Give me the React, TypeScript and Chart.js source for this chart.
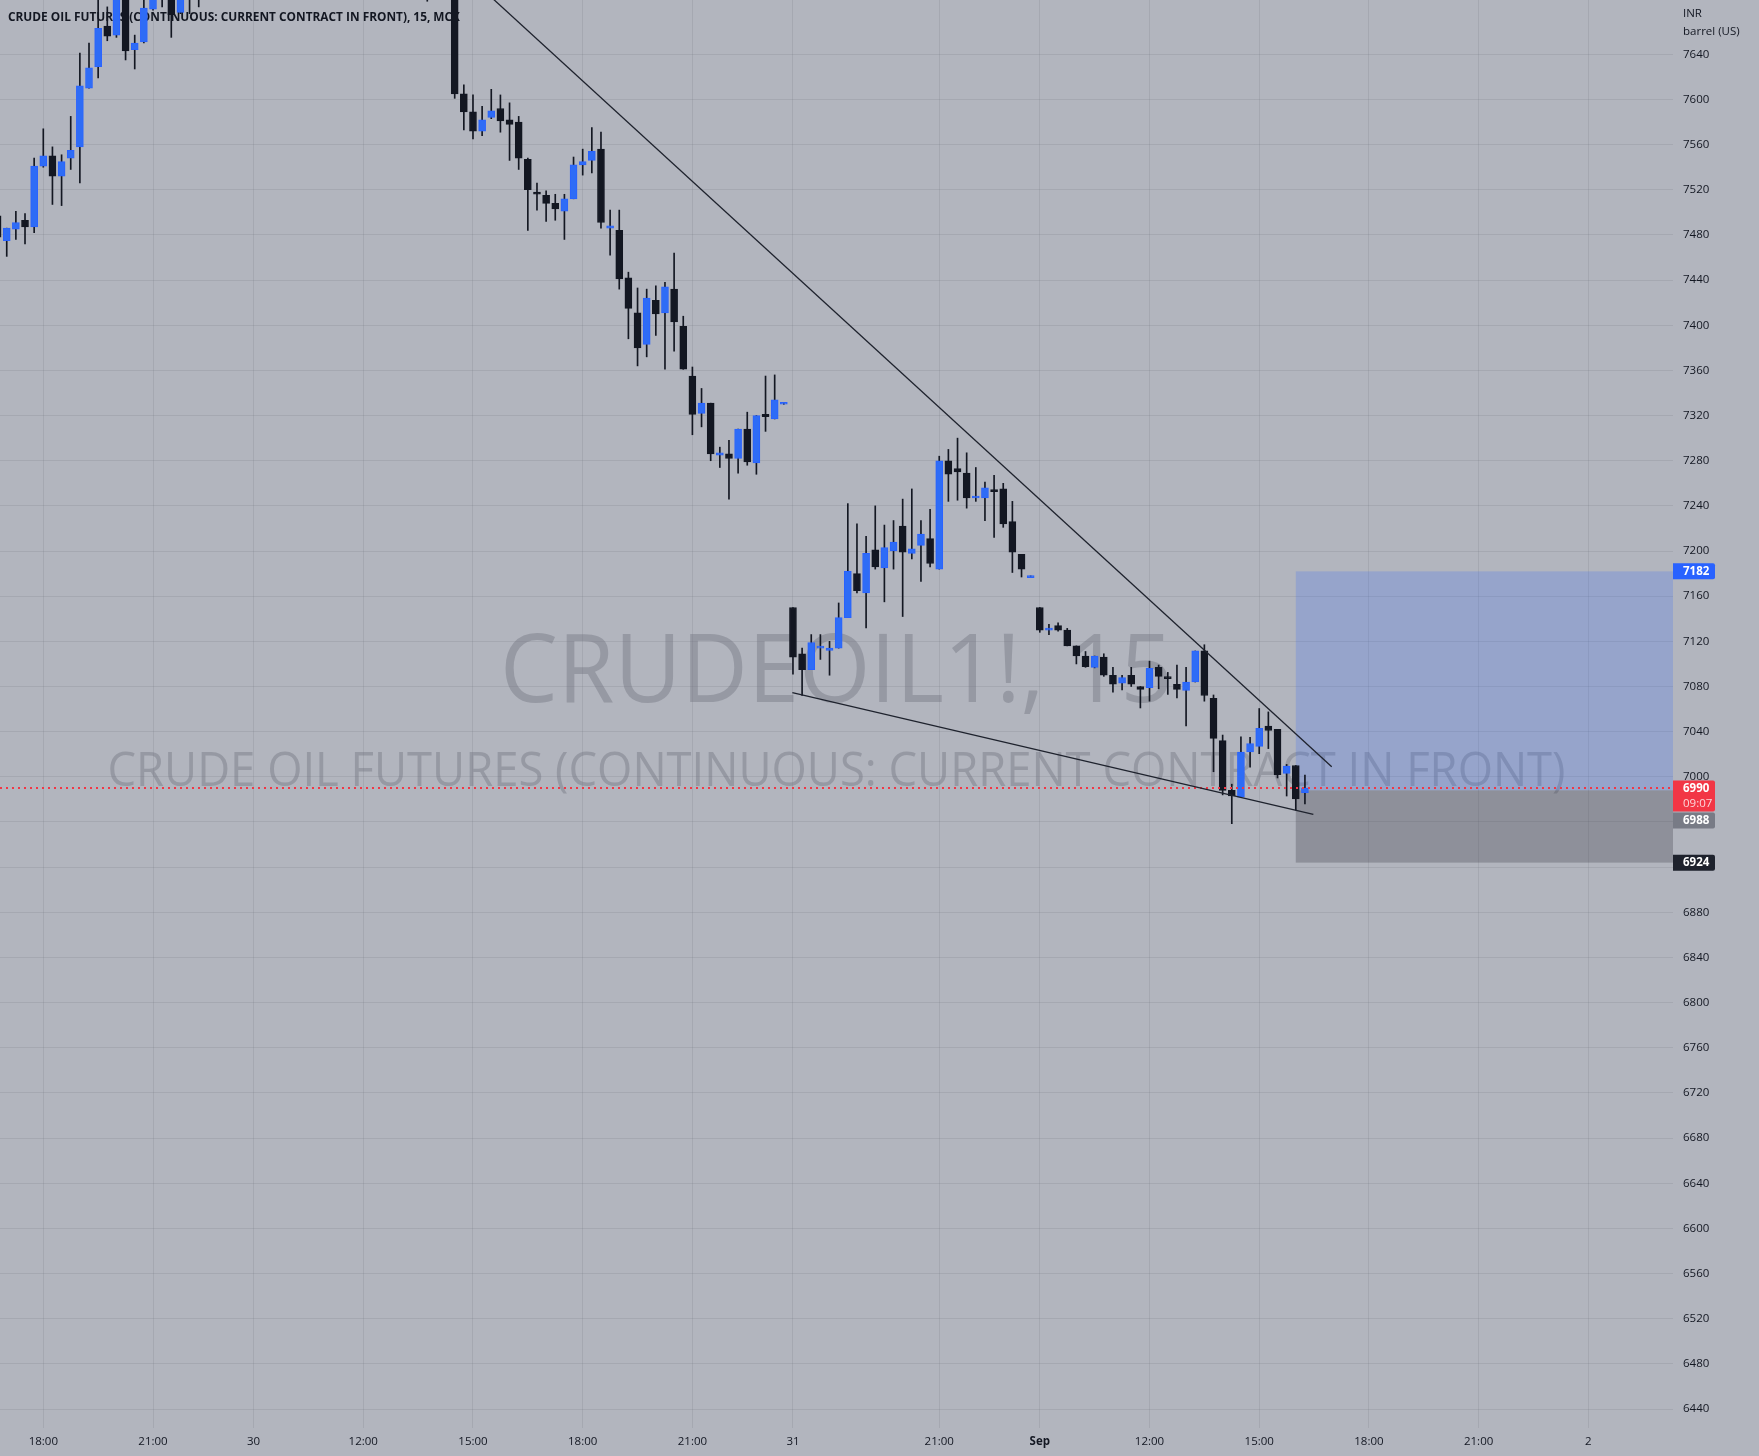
import { useEffect, useRef } from 'react';
import { Chart, registerables } from 'chart.js';

Chart.register(...registerables);

// ---------- data ----------
const FIRST_BAR = -5; // bar index of the first candle (index 0 = 29 Aug 18:00, 15-minute bars)

const opens = [
  7497, 7475, 7485, 7493, 7487, 7541, 7550, 7532, 7548, 7558, 7610, 7629, 7665, 7657, 7706, 7644, 7651, 7680, 7708, 7702,
  7677, 7700, 7712, 7696, 7716, 7728, 7720, 7738, 7740, 7760, 7748, 7756, 7742, 7734, 7746, 7762, 7750, 7740, 7748, 7736,
  7726, 7738, 7730, 7746, 7734, 7720, 7730, 7712, 7700, 7720, 7742, 7605, 7589, 7572, 7584, 7592, 7582, 7580, 7547, 7518,
  7515, 7508, 7501, 7512, 7542, 7546, 7556, 7486, 7484, 7442, 7411, 7383, 7422, 7411, 7432, 7399, 7355, 7322, 7331, 7285,
  7286, 7282, 7308, 7278, 7321, 7317, 7330, 7150, 7109, 7095, 7114, 7112, 7114, 7141, 7180, 7163, 7201, 7185, 7200, 7222,
  7198, 7205, 7211, 7184, 7280, 7273, 7269, 7247, 7247, 7254.5, 7255, 7226, 7197, 7176.5, 7150, 7130, 7134, 7130, 7116, 7107,
  7097, 7106, 7090, 7083, 7090, 7080, 7079, 7097, 7088.5, 7082, 7076.5, 7084, 7111.5, 7069.5, 7032, 6988, 6982, 7022, 7027, 7045,
  7042, 7003, 7010, 6986,
];
const highs = [
  7500, 7486, 7501, 7499, 7548, 7574, 7558, 7551, 7585, 7641, 7650, 7696, 7682, 7712, 7716, 7657, 7695, 7706, 7714, 7710,
  7704, 7718, 7720, 7722, 7734, 7736, 7742, 7744, 7768, 7772, 7764, 7762, 7750, 7752, 7770, 7768, 7756, 7754, 7752, 7744,
  7742, 7746, 7752, 7750, 7740, 7736, 7734, 7720, 7726, 7748, 7752, 7613, 7604, 7594, 7609, 7604, 7597, 7585, 7548, 7526,
  7519, 7516, 7516, 7549, 7556, 7575, 7571, 7502, 7502, 7447, 7433, 7432, 7435, 7438, 7464, 7408, 7363, 7344, 7331, 7292,
  7298, 7308, 7323, 7320, 7355, 7356, 7331.5, 7150, 7114, 7126, 7126, 7120, 7154, 7242, 7224, 7213, 7240, 7223, 7227, 7246,
  7255, 7227, 7237, 7284, 7290, 7300, 7287, 7274, 7261, 7267, 7260, 7244, 7197, 7178, 7150, 7135, 7136.5, 7131.5, 7116, 7111,
  7107, 7109, 7097, 7090, 7097, 7080, 7102.5, 7099, 7092.5, 7099, 7097, 7111.5, 7117, 7072.5, 7037, 6993.5, 7035.5, 7035, 7060.5, 7057.5,
  7042, 7011, 7010, 7001.5,
];
const lows = [
  7470, 7461, 7476, 7472, 7482, 7540, 7507, 7506, 7538, 7526, 7610, 7619, 7652, 7655, 7635, 7627, 7650, 7679, 7682, 7655,
  7676, 7676, 7682, 7692, 7710, 7714, 7716, 7726, 7734, 7742, 7738, 7736, 7726, 7728, 7740, 7744, 7734, 7732, 7728, 7718,
  7720, 7722, 7726, 7728, 7712, 7714, 7706, 7687, 7694, 7716, 7601, 7573, 7565, 7568, 7583, 7571, 7546, 7538, 7484, 7502,
  7492, 7493, 7476, 7512, 7533, 7535, 7486, 7462, 7432, 7388, 7364, 7372, 7391, 7361, 7377, 7361, 7303, 7310, 7280, 7274,
  7246, 7269, 7276, 7268, 7306, 7317, 7330, 7091, 7072, 7095, 7104, 7090, 7114, 7141, 7163, 7132, 7184, 7155, 7184, 7142,
  7193, 7173, 7186, 7184, 7244, 7245, 7238, 7244, 7227, 7212, 7221, 7181, 7177, 7176.5, 7128, 7126, 7129, 7116, 7100, 7097,
  7096.5, 7089, 7075, 7077, 7080, 7061, 7067, 7078, 7073, 7070, 7045, 7084, 7067, 7004.5, 6984, 6958.5, 6982, 7008.5, 7020.5, 7025,
  6999, 6983, 6970.5, 6976,
];
const closes = [
  7478, 7486, 7491, 7487, 7541, 7550, 7532, 7545, 7555, 7612, 7628, 7663, 7656, 7702, 7643, 7650, 7681, 7697, 7694, 7675,
  7699, 7712, 7696, 7716, 7728, 7720, 7738, 7732, 7760, 7748, 7756, 7742, 7734, 7746, 7762, 7750, 7740, 7748, 7736, 7726,
  7738, 7730, 7746, 7734, 7720, 7730, 7712, 7700, 7720, 7742, 7605, 7589, 7572, 7582, 7590, 7581, 7578, 7548, 7520, 7516,
  7508, 7503, 7512, 7542, 7545, 7554, 7491, 7488, 7441, 7415, 7380, 7424, 7410, 7434, 7403, 7361, 7321, 7331, 7286, 7287,
  7282, 7308, 7279, 7320, 7319, 7334, 7331.5, 7106, 7095, 7119, 7115.5, 7114, 7141, 7182, 7165, 7198, 7186, 7203, 7208, 7199,
  7202, 7215, 7189, 7280, 7268, 7270, 7247, 7248.5, 7256, 7252.5, 7224, 7199, 7184, 7178, 7130, 7131.5, 7130, 7116, 7107, 7097.5,
  7107, 7090, 7082, 7088, 7082, 7077.5, 7096, 7089, 7087, 7077.5, 7084, 7111.5, 7072, 7034, 6988, 6983, 7022, 7029.5, 7043, 7041,
  7002, 7009.5, 6980.5, 6990,
];

const timeTickIndex = [0, 12, 23, 35, 47, 59, 71, 82, 98, 109, 121, 133, 145, 157, 169];
const timeTickLabels = ['18:00', '21:00', '30', '12:00', '15:00', '18:00', '21:00', '31', '21:00', 'Sep', '12:00', '15:00', '18:00', '21:00', '2'];
const priceTicks = [
  6440, 6480, 6520, 6560, 6600, 6640, 6680, 6720, 6760, 6800, 6840, 6880, 6920, 6960, 7000, 7040,
  7080, 7120, 7160, 7200, 7240, 7280, 7320, 7360, 7400, 7440, 7480, 7520, 7560, 7600, 7640,
];

const upperTrend = [{ x: 45, y: 7720.2 }, { x: 140.93, y: 7008.9 }];
const lowerTrend = [{ x: 81.93, y: 7074.5 }, { x: 138.92, y: 6966.8 }];
const lastPrice = 6990;
const countdown = '09:07';
const positionStart = 137;
const targetPrice = 7182;
const entryPrice = 6988;
const stopPrice = 6924;

const X_MIN = -4.736;
const X_MAX = 178.26;
const Y_MIN = 6423.2;
const Y_MAX = 7688.1;

const titleText = 'CRUDE OIL FUTURES (CONTINUOUS: CURRENT CONTRACT IN FRONT), 15, MCX';
const watermarkSymbol = 'CRUDEOIL1!, 15';
const watermarkDesc = 'CRUDE OIL FUTURES (CONTINUOUS: CURRENT CONTRACT IN FRONT)';

// ---------- styles ----------
const FONT = "'Open Sans', 'Noto Sans', sans-serif";
const BG = '#b2b5be';
const GRID = 'rgba(120,123,134,0.22)';
const TEXT = '#131722';
const UP = '#2e6cf6';
const UP_BORDER = '#2962ff';
const DOWN = '#131722';
const WICK = '#131722';
const TREND = '#1e222d';
const RED = '#f23645';

export default function App() {
  const ref = useRef<HTMLCanvasElement>(null);

  useEffect(() => {
    document.body.style.margin = '0';
    const canvas = ref.current;
    if (!canvas) return;

    const barX = opens.map((_, i) => FIRST_BAR + i);
    const up = opens.map((o, i) => closes[i] >= o);
    const bodyData = opens.map((o, i) => ({ x: barX[i], y: [o, closes[i]] }));
    const wickData = opens.map((_, i) => ({ x: barX[i], y: [lows[i], highs[i]] }));

    const bgPlugin = {
      id: 'bgFill',
      beforeDraw(chart: any) {
        const { ctx, width, height } = chart;
        ctx.save();
        ctx.fillStyle = BG;
        ctx.fillRect(0, 0, width, height);
        ctx.restore();
      },
    };

    const decorPlugin = {
      id: 'decor',
      beforeDatasetsDraw(chart: any) {
        const { ctx, chartArea, scales } = chart;
        const xs = scales.x;
        const ys = scales.y;
        ctx.save();
        ctx.beginPath();
        ctx.rect(chartArea.left, chartArea.top, chartArea.right - chartArea.left, chartArea.bottom - chartArea.top);
        ctx.clip();
        const cx = (chartArea.left + chartArea.right) / 2;
        const cy = (chartArea.top + chartArea.bottom) / 2;
        ctx.fillStyle = 'rgba(112,115,126,0.42)';
        ctx.textAlign = 'center';
        ctx.textBaseline = 'alphabetic';
        ctx.font = `96px ${FONT}`;
        ctx.fillText(watermarkSymbol, cx, cy - 12, 673);
        ctx.font = `48px ${FONT}`;
        ctx.fillText(watermarkDesc, cx, cy + 72, 1458);

        // long position box
        const x0 = xs.getPixelForValue(positionStart);
        const x1 = chartArea.right;
        const yT = ys.getPixelForValue(targetPrice);
        const yE = ys.getPixelForValue(entryPrice);
        const yS = ys.getPixelForValue(stopPrice);
        ctx.fillStyle = 'rgba(41,98,255,0.2)';
        ctx.fillRect(x0, yT, x1 - x0, yE - yT);
        ctx.fillStyle = 'rgba(60,60,72,0.3)';
        ctx.fillRect(x0, yE, x1 - x0, yS - yE);

        // title
        ctx.fillStyle = TEXT;
        ctx.textAlign = 'left';
        ctx.font = `bold 12.5px ${FONT}`;
        ctx.fillText(titleText, 8, 21, 452);
        ctx.restore();
      },
    };

    const axisLabelPlugin = {
      id: 'axisLabels',
      afterDraw(chart: any) {
        const { ctx, chartArea, scales } = chart;
        const ys = scales.y;
        const lx = chartArea.right;
        const tx = lx + 10;
        const w = 42;
        ctx.save();
        ctx.textAlign = 'left';
        ctx.textBaseline = 'middle';
        ctx.fillStyle = TEXT;
        ctx.font = `11.5px ${FONT}`;
        ctx.fillText('INR', tx, 14);
        ctx.fillText('barrel (US)', tx, 32);

        const box = (top: number, h: number, color: string) => {
          ctx.fillStyle = color;
          ctx.beginPath();
          ctx.roundRect(lx, top, w, h, [0, 2, 2, 0]);
          ctx.fill();
        };
        ctx.font = `bold 11.5px ${FONT}`;

        const yT = ys.getPixelForValue(targetPrice);
        box(yT - 8, 16, UP_BORDER);
        ctx.fillStyle = '#ffffff';
        ctx.fillText(String(targetPrice), tx, yT);

        const yL = ys.getPixelForValue(lastPrice);
        const redTop = yL - 7.5;
        box(redTop, 31, RED);
        ctx.fillStyle = '#ffffff';
        ctx.fillText(String(lastPrice), tx, yL + 1);
        ctx.fillStyle = 'rgba(255,255,255,0.8)';
        ctx.font = `11.5px ${FONT}`;
        ctx.fillText(countdown, tx, yL + 15.5);

        ctx.font = `bold 11.5px ${FONT}`;
        const grayTop = redTop + 32;
        box(grayTop, 16, '#787b86');
        ctx.fillStyle = '#ffffff';
        ctx.fillText(String(entryPrice), tx, grayTop + 8);

        const yS = ys.getPixelForValue(stopPrice);
        box(yS - 8, 16, '#1e222d');
        ctx.fillStyle = '#ffffff';
        ctx.fillText(String(stopPrice), tx, yS);
        ctx.restore();
      },
    };

    const zeroPad = (s: any) => {
      s.paddingLeft = 0;
      s.paddingRight = 0;
      s.paddingTop = 0;
      s.paddingBottom = 0;
    };

    const config: any = {
      type: 'bar',
      data: {
        datasets: [
          {
            type: 'line', label: 'upper trend', data: upperTrend, borderColor: TREND, borderWidth: 1.3,
            pointRadius: 0, fill: false, tension: 0, order: 0, clip: 0,
          },
          {
            type: 'line', label: 'lower trend', data: lowerTrend, borderColor: TREND, borderWidth: 1.3,
            pointRadius: 0, fill: false, tension: 0, order: 0, clip: 0,
          },
          {
            type: 'line', label: 'last price', data: [{ x: X_MIN, y: lastPrice }, { x: X_MAX, y: lastPrice }],
            borderColor: RED, borderWidth: 2, borderDash: [2, 4], pointRadius: 0, fill: false, order: 0, clip: 0,
          },
          {
            type: 'bar', label: 'body', data: bodyData,
            backgroundColor: up.map((u) => (u ? UP : DOWN)),
            borderColor: up.map((u) => (u ? UP_BORDER : DOWN)),
            borderWidth: 1, borderSkipped: false, barThickness: 7, minBarLength: 2,
            grouped: false, order: 1, clip: 0,
          },
          {
            type: 'bar', label: 'wick', data: wickData, backgroundColor: WICK, borderWidth: 0,
            barThickness: 1, grouped: false, order: 2, clip: 0,
          },
        ],
      },
      options: {
        responsive: false,
        maintainAspectRatio: false,
        animation: false,
        devicePixelRatio: 1,
        events: [],
        layout: { padding: 0 },
        plugins: { legend: { display: false }, tooltip: { enabled: false }, title: { display: false } },
        scales: {
          x: {
            type: 'linear', position: 'bottom', min: X_MIN, max: X_MAX, offset: false,
            grid: { color: GRID, drawTicks: false, offset: false, lineWidth: 1 },
            border: { display: false },
            ticks: {
              autoSkip: false, maxRotation: 0, minRotation: 0, padding: 7, color: TEXT,
              font: (c: any) => ({ family: FONT, size: 11.5, weight: timeTickLabels[c.index] === 'Sep' ? 'bold' : 'normal' }),
              callback: (_v: any, i: number) => timeTickLabels[i] ?? '',
            },
            afterBuildTicks: (s: any) => { s.ticks = timeTickIndex.map((v) => ({ value: v })); },
            afterFit: (s: any) => { s.height = 28; zeroPad(s); },
          },
          y: {
            type: 'linear', position: 'right', min: Y_MIN, max: Y_MAX,
            grid: { color: GRID, drawTicks: false, lineWidth: 1 },
            border: { display: false },
            ticks: {
              padding: 10, color: TEXT, font: { family: FONT, size: 11.5 },
              callback: (v: any) => String(v),
            },
            afterBuildTicks: (s: any) => { s.ticks = priceTicks.map((v) => ({ value: v })); },
            afterFit: (s: any) => { s.width = 86; zeroPad(s); },
          },
        },
      },
      plugins: [bgPlugin, decorPlugin, axisLabelPlugin],
    };

    const chart = new Chart(canvas, config);
    return () => chart.destroy();
  }, []);

  return <canvas ref={ref} width={1759} height={1456} style={{ display: 'block', width: 1759, height: 1456 }} />;
}
